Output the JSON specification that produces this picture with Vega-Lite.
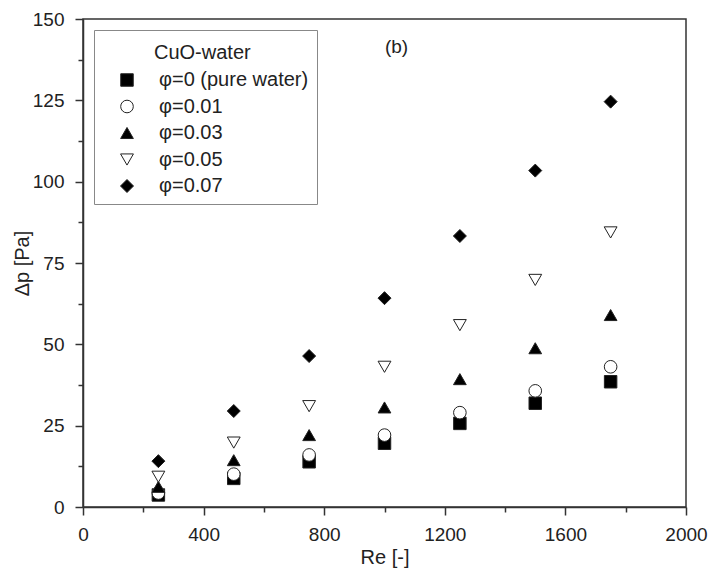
{
  "$schema": "https://vega.github.io/schema/vega-lite/v6.json",
  "width": 603,
  "height": 488,
  "autosize": {"type": "none"},
  "padding": {"left": 83, "top": 19, "right": 25, "bottom": 67},
  "background": "white",
  "config": {
    "font": "Liberation Sans",
    "view": {"stroke": "#333", "strokeWidth": 1.5},
    "axis": {
      "domainColor": "#333",
      "domainWidth": 1.5,
      "tickColor": "#333",
      "tickWidth": 1.5,
      "labelFont": "Liberation Sans",
      "labelFontSize": 19,
      "labelColor": "#222",
      "titleFont": "Liberation Sans",
      "titleFontSize": 20,
      "titleFontWeight": "normal",
      "titleColor": "#222",
      "grid": false,
      "labelOverlap": false,
      "labelFlush": false
    },
    "legend": {
      "labelFont": "Liberation Sans",
      "titleFont": "Liberation Sans",
      "orient": "none",
      "legendX": 11,
      "legendY": 11,
      "padding": 8,
      "strokeColor": "#888",
      "fillColor": "white",
      "titleFontSize": 20,
      "titleFontWeight": "normal",
      "titleColor": "#222",
      "titlePadding": 12,
      "labelFontSize": 20,
      "labelColor": "#222",
      "labelOffset": 22,
      "symbolOffset": 15,
      "rowPadding": 6.5,
      "symbolStrokeColor": "#222",
      "symbolStrokeWidth": 1
    }
  },
  "layer": [
    {
      "data": {
        "values": [
          {"Re": 250, "dp": 3.7, "series": "φ=0 (pure water)"},
          {"Re": 500, "dp": 8.8, "series": "φ=0 (pure water)"},
          {"Re": 750, "dp": 13.9, "series": "φ=0 (pure water)"},
          {"Re": 1000, "dp": 19.6, "series": "φ=0 (pure water)"},
          {"Re": 1250, "dp": 25.7, "series": "φ=0 (pure water)"},
          {"Re": 1500, "dp": 31.9, "series": "φ=0 (pure water)"},
          {"Re": 1750, "dp": 38.5, "series": "φ=0 (pure water)"},
          {"Re": 250, "dp": 4.3, "series": "φ=0.01"},
          {"Re": 500, "dp": 10.1, "series": "φ=0.01"},
          {"Re": 750, "dp": 16.0, "series": "φ=0.01"},
          {"Re": 1000, "dp": 22.1, "series": "φ=0.01"},
          {"Re": 1250, "dp": 29.0, "series": "φ=0.01"},
          {"Re": 1500, "dp": 35.7, "series": "φ=0.01"},
          {"Re": 1750, "dp": 43.1, "series": "φ=0.01"},
          {"Re": 250, "dp": 6.2, "series": "φ=0.03"},
          {"Re": 500, "dp": 14.4, "series": "φ=0.03"},
          {"Re": 750, "dp": 22.1, "series": "φ=0.03"},
          {"Re": 1000, "dp": 30.6, "series": "φ=0.03"},
          {"Re": 1250, "dp": 39.3, "series": "φ=0.03"},
          {"Re": 1500, "dp": 48.8, "series": "φ=0.03"},
          {"Re": 1750, "dp": 59.0, "series": "φ=0.03"},
          {"Re": 250, "dp": 9.3, "series": "φ=0.05"},
          {"Re": 500, "dp": 19.8, "series": "φ=0.05"},
          {"Re": 750, "dp": 31.0, "series": "φ=0.05"},
          {"Re": 1000, "dp": 43.1, "series": "φ=0.05"},
          {"Re": 1250, "dp": 55.9, "series": "φ=0.05"},
          {"Re": 1500, "dp": 69.8, "series": "φ=0.05"},
          {"Re": 1750, "dp": 84.4, "series": "φ=0.05"},
          {"Re": 250, "dp": 14.1, "series": "φ=0.07"},
          {"Re": 500, "dp": 29.5, "series": "φ=0.07"},
          {"Re": 750, "dp": 46.4, "series": "φ=0.07"},
          {"Re": 1000, "dp": 64.2, "series": "φ=0.07"},
          {"Re": 1250, "dp": 83.3, "series": "φ=0.07"},
          {"Re": 1500, "dp": 103.4, "series": "φ=0.07"},
          {"Re": 1750, "dp": 124.6, "series": "φ=0.07"}
        ]
      },
      "mark": {"type": "point", "filled": true, "stroke": "#222", "strokeWidth": 1, "opacity": 1},
      "encoding": {
        "x": {
          "field": "Re",
          "type": "quantitative",
          "scale": {"domain": [0, 2000], "nice": false},
          "axis": {
            "title": "Re [-]",
            "values": [0, 200, 400, 600, 800, 1000, 1200, 1400, 1600, 1800, 2000],
            "format": "d",
            "labelExpr": "datum.value % 400 === 0 ? datum.label : ''",
            "tickSize": {"condition": {"test": "datum.value % 400 === 0", "value": 8}, "value": 5},
            "labelPadding": 10,
            "titlePadding": 3
          }
        },
        "y": {
          "field": "dp",
          "type": "quantitative",
          "scale": {"domain": [0, 150], "nice": false},
          "axis": {
            "title": "Δp [Pa]",
            "values": [0, 12.5, 25, 37.5, 50, 62.5, 75, 87.5, 100, 112.5, 125, 137.5, 150],
            "labelExpr": "datum.value % 25 === 0 ? datum.label : ''",
            "tickSize": {"condition": {"test": "datum.value % 25 === 0", "value": 8}, "value": 5},
            "labelPadding": 11,
            "titlePadding": 0
          }
        },
        "shape": {
          "field": "series",
          "type": "nominal",
          "scale": {
            "domain": ["φ=0 (pure water)", "φ=0.01", "φ=0.03", "φ=0.05", "φ=0.07"],
            "range": ["square", "circle", "triangle-up", "triangle-down", "diamond"]
          },
          "legend": {
            "title": "CuO-water",
            "encoding": {
              "title": {"dx": {"value": 52}, "dy": {"value": 5}},
              "symbols": {"stroke": {"value": "#222"}, "strokeWidth": {"value": 1}}
            }
          }
        },
        "fill": {
          "field": "series",
          "type": "nominal",
          "scale": {
            "domain": ["φ=0 (pure water)", "φ=0.01", "φ=0.03", "φ=0.05", "φ=0.07"],
            "range": ["#000000", "#ffffff", "#000000", "#ffffff", "#000000"]
          },
          "legend": {
            "title": "CuO-water",
            "encoding": {
              "title": {"dx": {"value": 52}, "dy": {"value": 5}},
              "symbols": {"stroke": {"value": "#222"}, "strokeWidth": {"value": 1}}
            }
          }
        },
        "size": {
          "field": "series",
          "type": "nominal",
          "scale": {
            "domain": ["φ=0 (pure water)", "φ=0.01", "φ=0.03", "φ=0.05", "φ=0.07"],
            "range": [156, 169, 279, 279, 313]
          },
          "legend": {
            "title": "CuO-water",
            "encoding": {
              "title": {"dx": {"value": 52}, "dy": {"value": 5}},
              "symbols": {"stroke": {"value": "#222"}, "strokeWidth": {"value": 1}}
            }
          }
        }
      }
    },
    {
      "data": {"values": [{"Re": 1040, "dp": 141.4, "label": "(b)"}]},
      "mark": {"type": "text", "fontSize": 19, "font": "Liberation Sans", "color": "#222", "align": "center", "baseline": "middle"},
      "encoding": {
        "x": {"field": "Re", "type": "quantitative"},
        "y": {"field": "dp", "type": "quantitative"},
        "text": {"field": "label"}
      }
    }
  ]
}
